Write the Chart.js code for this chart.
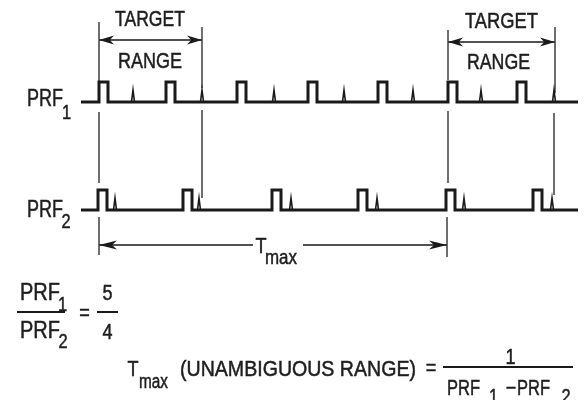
<!DOCTYPE html>
<html><head><meta charset="utf-8">
<script src="https://cdn.jsdelivr.net/npm/chart.js@4/dist/chart.umd.min.js"></script>
<style>html,body{margin:0;padding:0;background:#fff}#wrap{width:585px;height:400px;position:relative}</style>
</head><body><div id="wrap"><canvas id="c"></canvas></div>
<script>
// ---- data (horizontal time positions) ----
const prf1PulseStarts = [99, 166, 237, 308, 378, 448, 517];
const prf1Echoes      = [133, 202, 274, 344, 413, 481, 554];
const prf2PulseStarts = [98, 183, 272, 358, 446, 533];
const prf2Echoes      = [115, 199, 291, 377, 464, 552];
const trainStart = 81, trainEnd = 578;
const targetRange1 = [99, 202];
const targetRange2 = [448, 555];
const tmaxSpan = [99, 447];
const trainLabels = ['PRF', 'PRF'];
const trainSubs = ['1', '2'];

const FONT = '"Liberation Sans",Arial,"Helvetica",sans-serif';
const INK = '#1a1a1a', TXT = '#1e1e1e';

function train(starts, base, top, w) {
  const pts = [{x: trainStart, y: base}];
  starts.forEach(s => pts.push({x: s, y: base}, {x: s, y: top}, {x: s + w, y: top}, {x: s + w, y: base}));
  pts.push({x: trainEnd, y: base});
  return pts;
}
function spikes(echoes, base, h) {
  const pts = [];
  echoes.forEach(e => pts.push({x: e - 1.5, y: base}, {x: e, y: base - h}, {x: e + 1.5, y: base}, {x: e, y: null}));
  return pts;
}
function vsegs(list) { const p = []; list.forEach(([x, a, b]) => p.push({x, y: a}, {x, y: b}, {x, y: null})); return p; }
function hsegs(list) { const p = []; list.forEach(([a, b, y]) => p.push({x: a, y}, {x: b, y}, {x: b, y: null})); return p; }

const guides = [
  [targetRange1[0], 22, 82], [targetRange1[0], 112, 183], [tmaxSpan[0], 217, 255],
  [targetRange1[1], 27, 88], [targetRange1[1], 110, 198],
  [targetRange2[0], 30, 80], [targetRange2[0], 111, 183], [tmaxSpan[1], 217, 257],
  [targetRange2[1], 27, 93], [targetRange2[1] - 1, 113, 195]
];
const arrowLines = [
  [targetRange1[0], targetRange1[1], 40], [targetRange2[0], targetRange2[1], 42],
  [tmaxSpan[0], 253, 245], [303, tmaxSpan[1], 245]
];
const fracBars = [[17, 65, 312], [97, 118, 312], [443, 573, 367]];

const base = {showLine: true, pointRadius: 0, borderColor: INK, clip: false, spanGaps: false, tension: 0};

// x = left edge, w = width (text compressed to fit); cx = centre (narrow face)
const labels = [
  {t: 'TARGET', x: 115, w: 70, y: 18.5, s: 22},
  {t: 'RANGE', x: 118, w: 64, y: 60, s: 22},
  {t: 'TARGET', x: 465, w: 73, y: 20.5, s: 22},
  {t: 'RANGE', x: 467, w: 63, y: 61, s: 22},
  {t: trainLabels[0], x: 27, w: 36, y: 98, s: 23},
  {t: trainSubs[0], cx: 66.5, y: 111.5, s: 20},
  {t: trainLabels[1], x: 27, w: 36, y: 208.5, s: 23},
  {t: trainSubs[1], cx: 66, y: 221, s: 20},
  {t: 'T', cx: 261, y: 245, s: 22},
  {t: 'max', x: 265, w: 32, y: 257, s: 20},
  {t: 'PRF', x: 20, w: 40, y: 291.5, s: 23},
  {t: '1', cx: 62.5, y: 304, s: 20},
  {t: 'PRF', x: 20, w: 40, y: 330, s: 23},
  {t: '2', cx: 63, y: 341, s: 20},
  {t: '=', cx: 84.5, y: 312, s: 22},
  {t: '5', cx: 107.5, y: 292.5, s: 22},
  {t: '4', cx: 107.5, y: 331.5, s: 22},
  {t: 'T', cx: 133, y: 368.5, s: 22},
  {t: 'max', x: 139, w: 29, y: 381, s: 20},
  {t: '(UNAMBIGUOUS RANGE)', x: 180, w: 236, y: 368, s: 22},
  {t: '=', cx: 431, y: 367, s: 22},
  {t: '1', cx: 510.5, y: 356, s: 22},
  {t: 'PRF', x: 447, w: 33, y: 387, s: 22},
  {t: '1', cx: 493.5, y: 396, s: 20},
  {t: '\u2212', cx: 511, y: 387, s: 22},
  {t: 'PRF', x: 517, w: 33, y: 387, s: 22},
  {t: '2', cx: 566, y: 396, s: 20}
];

const arrowHeads = [
  {x: targetRange1[0], y: 40, d: -1, len: 15, hw: 4.5},
  {x: targetRange1[1], y: 40, d: 1, len: 15, hw: 4.5},
  {x: targetRange2[0], y: 42, d: -1, len: 15, hw: 4.5},
  {x: targetRange2[1], y: 42, d: 1, len: 15, hw: 4.5},
  {x: tmaxSpan[0], y: 245, d: -1, len: 18, hw: 4.5},
  {x: tmaxSpan[1], y: 245, d: 1, len: 18, hw: 4.5}
];

const deco = {
  id: 'deco',
  afterDatasetsDraw(chart) {
    const ctx = chart.ctx, xs = chart.scales.x, ys = chart.scales.y;
    ctx.save();
    ctx.fillStyle = INK;
    arrowHeads.forEach(a => {
      const tx = xs.getPixelForValue(a.x), ty = ys.getPixelForValue(a.y);
      const bx = tx - a.d * a.len;
      ctx.beginPath();
      ctx.moveTo(tx, ty);
      ctx.lineTo(bx, ty - a.hw);
      ctx.lineTo(tx - a.d * a.len * 0.72, ty);
      ctx.lineTo(bx, ty + a.hw);
      ctx.closePath();
      ctx.fill();
    });
    ctx.fillStyle = TXT;
    ctx.strokeStyle = TXT;
    ctx.lineWidth = 0.5;
    labels.forEach(l => {
      ctx.font = l.s + 'px ' + FONT;
      const yb = ys.getPixelForValue(l.y) + 0.358 * l.s;
      ctx.save();
      if (l.cx !== undefined) {
        ctx.textAlign = 'center';
        ctx.translate(xs.getPixelForValue(l.cx), yb);
        ctx.scale(0.82, 1);
      } else {
        ctx.textAlign = 'left';
        const x0 = xs.getPixelForValue(l.x);
        const tw = xs.getPixelForValue(l.x + l.w) - x0;
        const m = ctx.measureText(l.t).width;
        ctx.translate(x0, yb);
        ctx.scale(tw / m, 1);
      }
      ctx.fillText(l.t, 0, 0);
      ctx.strokeText(l.t, 0, 0);
      ctx.restore();
    });
    ctx.restore();
  }
};

new Chart(document.getElementById('c'), {
  type: 'scatter',
  data: {datasets: [
    Object.assign({}, base, {data: train(prf1PulseStarts, 102, 82, 9), borderWidth: 3, borderJoinStyle: 'miter'}),
    Object.assign({}, base, {data: train(prf2PulseStarts, 210, 190, 9), borderWidth: 3, borderJoinStyle: 'miter'}),
    Object.assign({}, base, {data: spikes(prf1Echoes, 102, 12), borderWidth: 1.6}),
    Object.assign({}, base, {data: spikes(prf2Echoes, 210, 12), borderWidth: 1.6}),
    Object.assign({}, base, {data: vsegs(guides), borderWidth: 1.4, borderColor: '#333'}),
    Object.assign({}, base, {data: hsegs(arrowLines), borderWidth: 1.6}),
    Object.assign({}, base, {data: hsegs(fracBars), borderWidth: 2})
  ]},
  options: {
    responsive: true, maintainAspectRatio: false, animation: false, events: [],
    layout: {padding: 0},
    plugins: {legend: {display: false}, tooltip: {enabled: false}},
    scales: {
      x: {type: 'linear', min: 0, max: 585, display: false},
      y: {type: 'linear', min: 0, max: 400, reverse: true, display: false}
    }
  },
  plugins: [deco]
});
</script></body></html>
